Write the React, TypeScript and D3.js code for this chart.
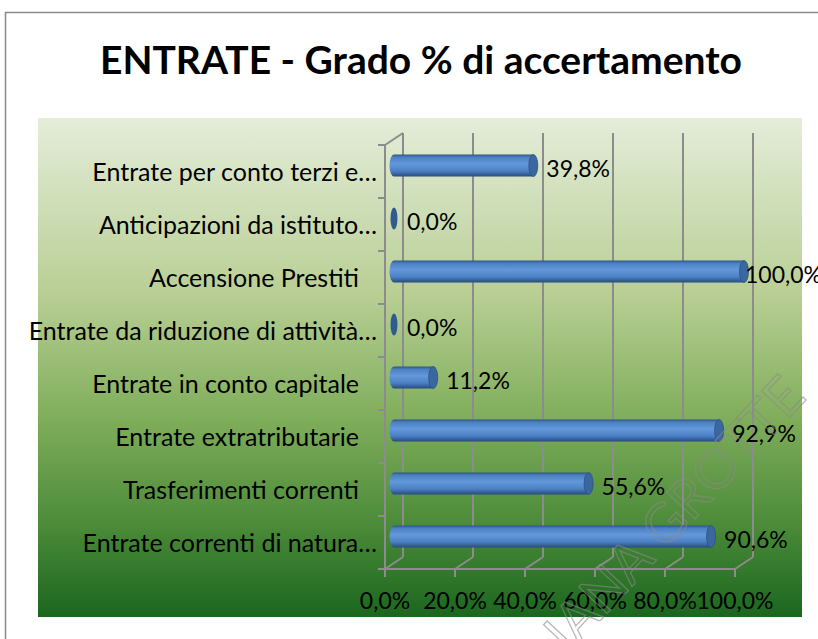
import React from 'react';
import * as d3 from 'd3';

// categories listed bottom to top (Excel order)
const categories = [
  'Entrate correnti di natura…',
  'Trasferimenti correnti',
  'Entrate extratributarie',
  'Entrate in conto capitale',
  'Entrate da riduzione di attività…',
  'Accensione Prestiti',
  'Anticipazioni da istituto…',
  'Entrate per conto terzi e…',
];
const values = [90.6, 55.6, 92.9, 11.2, 0.0, 100.0, 0.0, 39.8];
const xTicks = [0, 20, 40, 60, 80, 100];

const title = 'ENTRATE - Grado % di accertamento';
const FONT = 'Lato, "Open Sans", sans-serif';

const fmt = (v: number) => v.toFixed(1).replace('.', ',') + '%';

const App = () => {
  const width = 818;
  const height = 639;

  // front floor / wall geometry
  const floorY = 569;
  const topY = 145;
  const DX = 18;
  const DY = -12;

  const x = d3.scaleLinear().domain([0, 100]).range([385, 735]);
  const y = d3.scaleBand<string>().domain(categories).range([floorY, topY]).paddingInner(0);

  const bw = y.bandwidth();
  const barH = 22;
  const ry = barH / 2;
  const rx = 4.5;
  const midX = DX / 2;
  const midY = DY / 2;

  const boundaries = d3.range(categories.length + 1).map(i => floorY - i * bw);

  return (
    <svg width={width} height={height} style={{ position: 'absolute', left: 0, top: 0, background: '#fff' }}>
      <defs>
        <linearGradient id="plotBg" x1="0" y1="0" x2="0" y2="1">
          <stop offset="0" stopColor="#e4edd9" />
          <stop offset="0.35" stopColor="#b9cf95" />
          <stop offset="0.6" stopColor="#80ae5b" />
          <stop offset="0.82" stopColor="#4a8a38" />
          <stop offset="1" stopColor="#1b661f" />
        </linearGradient>
        <linearGradient id="barBody" x1="0" y1="0" x2="0" y2="1">
          <stop offset="0" stopColor="#2c558b" />
          <stop offset="0.12" stopColor="#4a7fc2" />
          <stop offset="0.42" stopColor="#6399da" />
          <stop offset="0.75" stopColor="#4b80c4" />
          <stop offset="1" stopColor="#284b7c" />
        </linearGradient>
      </defs>

      {/* chart frame */}
      <rect x={5.5} y={12.5} width={830} height={650} fill="#fff" stroke="#8a8a8a" strokeWidth={1.5} />

      <text x={421} y={74} textAnchor="middle" fontFamily={FONT} fontWeight="bold" fontSize={39} fill="#000">
        {title}
      </text>

      {/* plot area */}
      <rect x={38} y={118} width={764} height={499} fill="url(#plotBg)" />

      {/* back wall gridlines */}
      {xTicks.map(t => (
        <line key={'g' + t} x1={x(t) + DX} x2={x(t) + DX} y1={topY + DY} y2={floorY + DY} stroke="#8c8c8c" strokeWidth={2} />
      ))}
      {/* floor diagonals */}
      {xTicks.map(t => (
        <line key={'f' + t} x1={x(t)} x2={x(t) + DX} y1={floorY} y2={floorY + DY} stroke="#8c8c8c" strokeWidth={2} />
      ))}
      {/* top of left wall */}
      <line x1={x(0)} x2={x(0) + DX} y1={topY} y2={topY + DY} stroke="#8c8c8c" strokeWidth={2} />
      {/* left axis */}
      <line x1={x(0)} x2={x(0)} y1={topY} y2={floorY} stroke="#8c8c8c" strokeWidth={2} />
      {boundaries.map((b, i) => (
        <line key={'t' + i} x1={x(0) - 7} x2={x(0)} y1={b} y2={b} stroke="#8c8c8c" strokeWidth={2} />
      ))}
      {/* bottom axis */}
      <line x1={x(0)} x2={x(100)} y1={floorY} y2={floorY} stroke="#8c8c8c" strokeWidth={2} />
      {xTicks.map(t => (
        <line key={'bt' + t} x1={x(t)} x2={x(t)} y1={floorY} y2={floorY + 8} stroke="#8c8c8c" strokeWidth={2} />
      ))}

      {/* bars */}
      {categories.map((c, i) => {
        const v = values[i];
        const cy = (y(c) as number) + bw / 2 + midY;
        const x0 = x(0) + midX;
        const x1 = x(v) + midX;
        if (v === 0) {
          return <ellipse key={'b' + i} cx={x0} cy={cy} rx={3.5} ry={ry} fill="#2f5b8f" />;
        }
        const body = `M${x1},${cy - ry} L${x0},${cy - ry} A${rx},${ry} 0 0 0 ${x0},${cy + ry} L${x1},${cy + ry} Z`;
        return (
          <g key={'b' + i}>
            <path d={body} fill="url(#barBody)" />
            <ellipse cx={x1} cy={cy} rx={rx} ry={ry} fill="#3b679f" stroke="#2c5284" strokeWidth={0.8} />
          </g>
        );
      })}

      {/* value labels */}
      {categories.map((c, i) => {
        const v = values[i];
        const cy = (y(c) as number) + bw / 2;
        const lx = Math.min(x(v) + midX + 13, 745);
        return (
          <text key={'v' + i} x={lx} y={cy + 5.5} fontFamily={FONT} fontSize={23} fill="#000">
            {fmt(v)}
          </text>
        );
      })}

      {/* category labels */}
      {categories.map((c, i) => {
        const cy = (y(c) as number) + bw / 2;
        const lx = c.endsWith('…') ? 377 : 359;
        return (
          <text key={'c' + i} x={lx} y={cy + 9} textAnchor="end" fontFamily={FONT} fontSize={25} fill="#000">
            {c}
          </text>
        );
      })}

      {/* x tick labels */}
      {xTicks.map(t => (
        <text key={'xl' + t} x={x(t)} y={609} textAnchor="middle" fontFamily={FONT} fontSize={23} fill="#000">
          {fmt(t)}
        </text>
      ))}

      {/* watermark */}
      <text
        x={0}
        y={0}
        transform="translate(668,548) rotate(-47)"
        textAnchor="middle"
        fontFamily={FONT}
        fontSize={54}
        fill="none"
        stroke="#8a8a8a"
        strokeOpacity={0.6}
        strokeWidth={1.3}
      >
        ELIANA GROTTE
      </text>
    </svg>
  );
};

export default App;
